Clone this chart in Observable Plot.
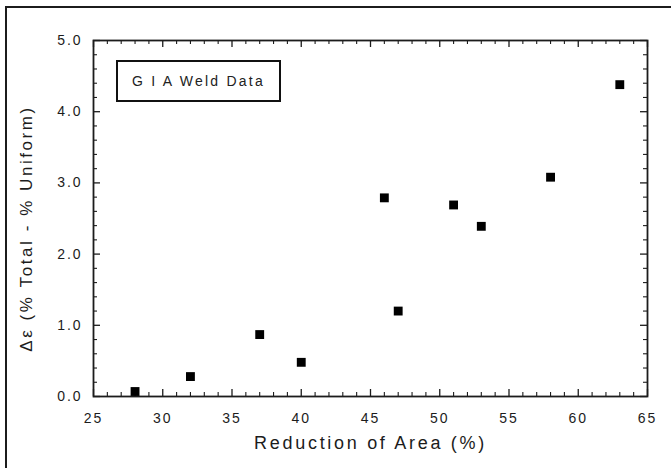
<!DOCTYPE html>
<html>
<head>
<meta charset="utf-8">
<script src="https://cdn.jsdelivr.net/npm/d3@7"></script>
<script src="https://cdn.jsdelivr.net/npm/@observablehq/plot@0.6"></script>
<style>
  html, body { margin: 0; padding: 0; background: #fff; }
  #wrap { position: relative; width: 671px; height: 468px; overflow: hidden; font-family: "Liberation Sans", Arial, sans-serif; }
  #border { position: absolute; left: 5px; top: 6px; width: 700px; height: 500px; border-left: 2.5px solid #1c1c1c; border-top: 2.5px solid #1c1c1c; }
  #chart { position: absolute; left: 0; top: 0; }
  #chart svg text { letter-spacing: 0.14em; }
  #chart svg .title text { letter-spacing: 0.15em; }
  #legend { position: absolute; left: 116px; top: 60px; width: 161px; height: 38px; border: 2px solid #111;
            font-size: 14px; letter-spacing: 0.16em; color: #222; display: flex; align-items: center; justify-content: center; }
</style>
</head>
<body>
<div id="wrap">
  <div id="border"></div>
  <div id="chart"></div>
  <div id="legend">G I A Weld Data</div>
</div>
<script>
// Data
const reductionOfArea = [28, 32, 37, 40, 46, 47, 51, 53, 58, 63];
const deltaStrain     = [0.07, 0.28, 0.87, 0.48, 2.79, 1.20, 2.69, 2.39, 3.08, 4.38];
const xTicks = [25, 30, 35, 40, 45, 50, 55, 60, 65];
const yTicks = [0, 1, 2, 3, 4, 5];
const xTitle = "Reduction of Area (%)";
const yTitle = "Δε (% Total - % Uniform)";
const legendLabel = "G I A Weld Data";

const points = reductionOfArea.map((x, i) => ({x, y: deltaStrain[i]}));

const W = 671, H = 468, mL = 93, mR = 24, mT = 40, mB = 72;
const innerW = W - mL - mR, innerH = H - mT - mB;
const xMinor = d3.range(25, 65.001, 1).filter(v => v % 5 !== 0);
const yMinor = d3.range(0, 5.001, 0.2).map(v => +v.toFixed(1)).filter(v => Math.abs(v - Math.round(v)) > 1e-6);
const ink = "#1c1c1c";
const majorLen = 7, minorLen = 4;

const chart = Plot.plot({
  width: W, height: H,
  marginLeft: mL, marginRight: mR, marginTop: mT, marginBottom: mB,
  style: {fontFamily: "'Liberation Sans', Arial, sans-serif", color: ink, background: "transparent"},
  x: {domain: [25, 65]},
  y: {domain: [0, 5]},
  marks: [
    // tick marks, inward, all four sides
    Plot.ruleX(xTicks, {x: d => d, insetTop: innerH - majorLen, stroke: ink, strokeWidth: 1.3}),
    Plot.ruleX(xMinor, {x: d => d, insetTop: innerH - minorLen, stroke: ink, strokeWidth: 1.1}),
    Plot.ruleX(xTicks, {x: d => d, insetBottom: innerH - majorLen, stroke: ink, strokeWidth: 1.3}),
    Plot.ruleX(xMinor, {x: d => d, insetBottom: innerH - minorLen, stroke: ink, strokeWidth: 1.1}),
    Plot.ruleY(yTicks, {y: d => d, insetRight: innerW - majorLen, stroke: ink, strokeWidth: 1.3}),
    Plot.ruleY(yMinor, {y: d => d, insetRight: innerW - minorLen, stroke: ink, strokeWidth: 1.1}),
    Plot.ruleY(yTicks, {y: d => d, insetLeft: innerW - majorLen, stroke: ink, strokeWidth: 1.3}),
    Plot.ruleY(yMinor, {y: d => d, insetLeft: innerW - minorLen, stroke: ink, strokeWidth: 1.1}),
    Plot.frame({stroke: ink, strokeWidth: 1.8}),
    Plot.axisX(xTicks, {tickSize: 0, tickPadding: 17, fontSize: 14, label: null, fill: ink}),
    Plot.axisY(yTicks, {tickSize: 0, tickPadding: 11, fontSize: 14, label: null, fill: ink, tickFormat: d => d.toFixed(1)}),
    Plot.dot(points, {x: "x", y: "y", symbol: "square", r: 5, fill: "#000", stroke: "none"}),
    Plot.text([xTitle], {frameAnchor: "bottom", textAnchor: "middle", dy: 52, fontSize: 18, fill: ink, className: "title"}),
    Plot.text([yTitle], {frameAnchor: "left", textAnchor: "middle", rotate: -90, dx: -67, dy: 10, fontSize: 17, fill: ink, className: "title"})
  ]
});
document.getElementById("chart").appendChild(chart);
document.getElementById("legend").textContent = legendLabel;
</script>
</body>
</html>
